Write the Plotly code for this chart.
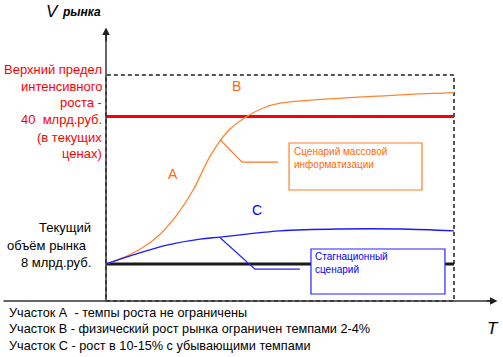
import plotly.graph_objects as go

# ---- data (T = time units, V = market volume, bn rub) ----
T_orange = [0, 0.5, 1.0, 1.5, 2.0, 2.5, 3.0, 3.5, 4.0, 4.5, 5.0, 6.0, 7.0, 8.0, 9.0, 10]
V_orange = [8, 9.4, 11.3, 14.1, 18.3, 24.0, 31.5, 36.8, 39.8, 41.8, 42.9, 43.6, 44.1, 44.5, 44.9, 45.2]
T_blue = [0, 0.78, 1.75, 2.7, 3.28, 4.05, 5.0, 6.7, 8.45, 10]
V_blue = [8, 9.96, 12.1, 13.4, 13.85, 14.5, 15.2, 15.6, 15.6, 15.2]
T_range = [0, 10]
V_limit = 40      # upper limit of intensive growth
V_current = 8     # current market volume
V_top = 49        # dashed frame top

W, H = 503, 357
X0, X1 = -3.046, 11.408
Y0, Y1 = -12.17, 65.28

def px(x):
    return x / W
def py(y):
    return 1 - y / H

fig = go.Figure()

# dashed frame
fig.add_shape(type="rect", x0=T_range[0], x1=T_range[1], y0=0, y1=V_top,
              line=dict(color="#555", width=2, dash="4px,3px"), layer="below")

# red limit line and black current-volume line
fig.add_trace(go.Scatter(x=T_range, y=[V_limit, V_limit], mode="lines",
                         line=dict(color="#FF0000", width=3), hoverinfo="skip"))
fig.add_trace(go.Scatter(x=T_range, y=[V_current, V_current], mode="lines",
                         line=dict(color="#1a1a1a", width=3), hoverinfo="skip"))
# curves
fig.add_trace(go.Scatter(x=T_orange, y=V_orange, mode="lines", line_shape="spline",
                         line=dict(color="#FF8533", width=1.3, smoothing=1), hoverinfo="skip"))
fig.add_trace(go.Scatter(x=T_blue, y=V_blue, mode="lines", line_shape="spline",
                         line=dict(color="#1a1aFF", width=1.3), hoverinfo="skip"))

# leader lines
fig.add_shape(type="path", path="M 3.28 35.0 L 3.91 30.1 L 4.94 30.1",
              line=dict(color="#FF7722", width=1.2))
fig.add_shape(type="path", path="M 3.28 13.7 L 4.28 6.9 L 5.57 6.9",
              line=dict(color="#2222FF", width=1.2))
# callout boxes
fig.add_shape(type="rect", x0=5.26, x1=9.08, y0=24.06, y1=34.26,
              line=dict(color="#FF7F27", width=1.2), fillcolor="white")
fig.add_shape(type="rect", x0=5.89, x1=9.74, y0=1.5, y1=11.26,
              line=dict(color="#2222FF", width=1.2), fillcolor="white")

# axes
fig.add_shape(type="line", x0=0, x1=0, y0=0, y1=58, line=dict(color="#333", width=1.5))
fig.add_shape(type="line", x0=X0 + 0.1, x1=11.1, y0=0, y1=0, line=dict(color="#333", width=1.5))
fig.add_annotation(x=0, y=59.3, ax=0, ay=56, xref="x", yref="y", axref="x", ayref="y",
                   text="", showarrow=True, arrowhead=2, arrowsize=1, arrowwidth=1.5, arrowcolor="#222")
fig.add_annotation(x=11.25, y=0, ax=10.9, ay=0, xref="x", yref="y", axref="x", ayref="y",
                   text="", showarrow=True, arrowhead=2, arrowsize=1, arrowwidth=1.5, arrowcolor="#222")

FONT = "Arial, Liberation Sans, sans-serif"

def txt(x, y, s, color="black", size=13, anchor="left", **kw):
    fig.add_annotation(x=px(x), y=py(y), xref="paper", yref="paper", text=s, showarrow=False,
                       xanchor=anchor, yanchor="middle", font=dict(family=FONT, size=size, color=color), **kw)

# axis titles
txt(44, 11, "<i>V</i>", size=17, anchor="left")
txt(60, 12, "<b><i>рынка</i></b>", size=12, anchor="left")
txt(485, 328, "<i>T</i>", size=17, anchor="left")

# left labels (red)
red_lines = ["Верхний предел", "интенсивного", "роста -", "40  млрд.руб.", "(в текущих", "ценах)"]
red_y = [70, 86.5, 103, 119.5, 137, 153.5]
for s, y in zip(red_lines, red_y):
    txt(104, y, s, color="#FF0000", size=13, anchor="right")

# left labels (black)
blk_lines = ["Текущий", "объём рынка ", "8 млрд.руб."]
blk_y = [228, 245, 262]
for s, y in zip(blk_lines, blk_y):
    txt(93, y, s.strip(), size=13, anchor="right", xshift=(-4 if s.endswith(" ") else 0))

# region letters
txt(173, 174, "A", color="#FF6A00", size=14, anchor="center")
txt(236, 86, "B", color="#FF6A00", size=14, anchor="center")
txt(257, 210, "C", color="#0000FF", size=14, anchor="center")

# callout texts
txt(292, 151, "Сценарий массовой", color="#FF6A00", size=10)
txt(292, 164.5, "информатизации", color="#FF6A00", size=10)
txt(313, 256, "Стагнационный", color="#0000FF", size=10)
txt(313, 269.5, "сценарий", color="#0000FF", size=10)

# bottom notes
notes = ["Участок А  - темпы роста не ограничены",
         "Участок В - физический рост рынка ограничен темпами 2-4%",
         "Участок С - рост в 10-15% с убывающими темпами"]
notes_y = [312.5, 329, 345.5]
for s, y in zip(notes, notes_y):
    txt(7, y, s, size=12.7)

fig.update_layout(
    width=W, height=H, margin=dict(l=0, r=0, t=0, b=0),
    paper_bgcolor="white", plot_bgcolor="white", showlegend=False,
    xaxis=dict(range=[X0, X1], visible=False, fixedrange=True),
    yaxis=dict(range=[Y0, Y1], visible=False, fixedrange=True),
)
fig.write_html("out.html", config={"displayModeBar": False},
               post_script="document.body.style.margin='0';document.body.style.overflow='hidden';")
